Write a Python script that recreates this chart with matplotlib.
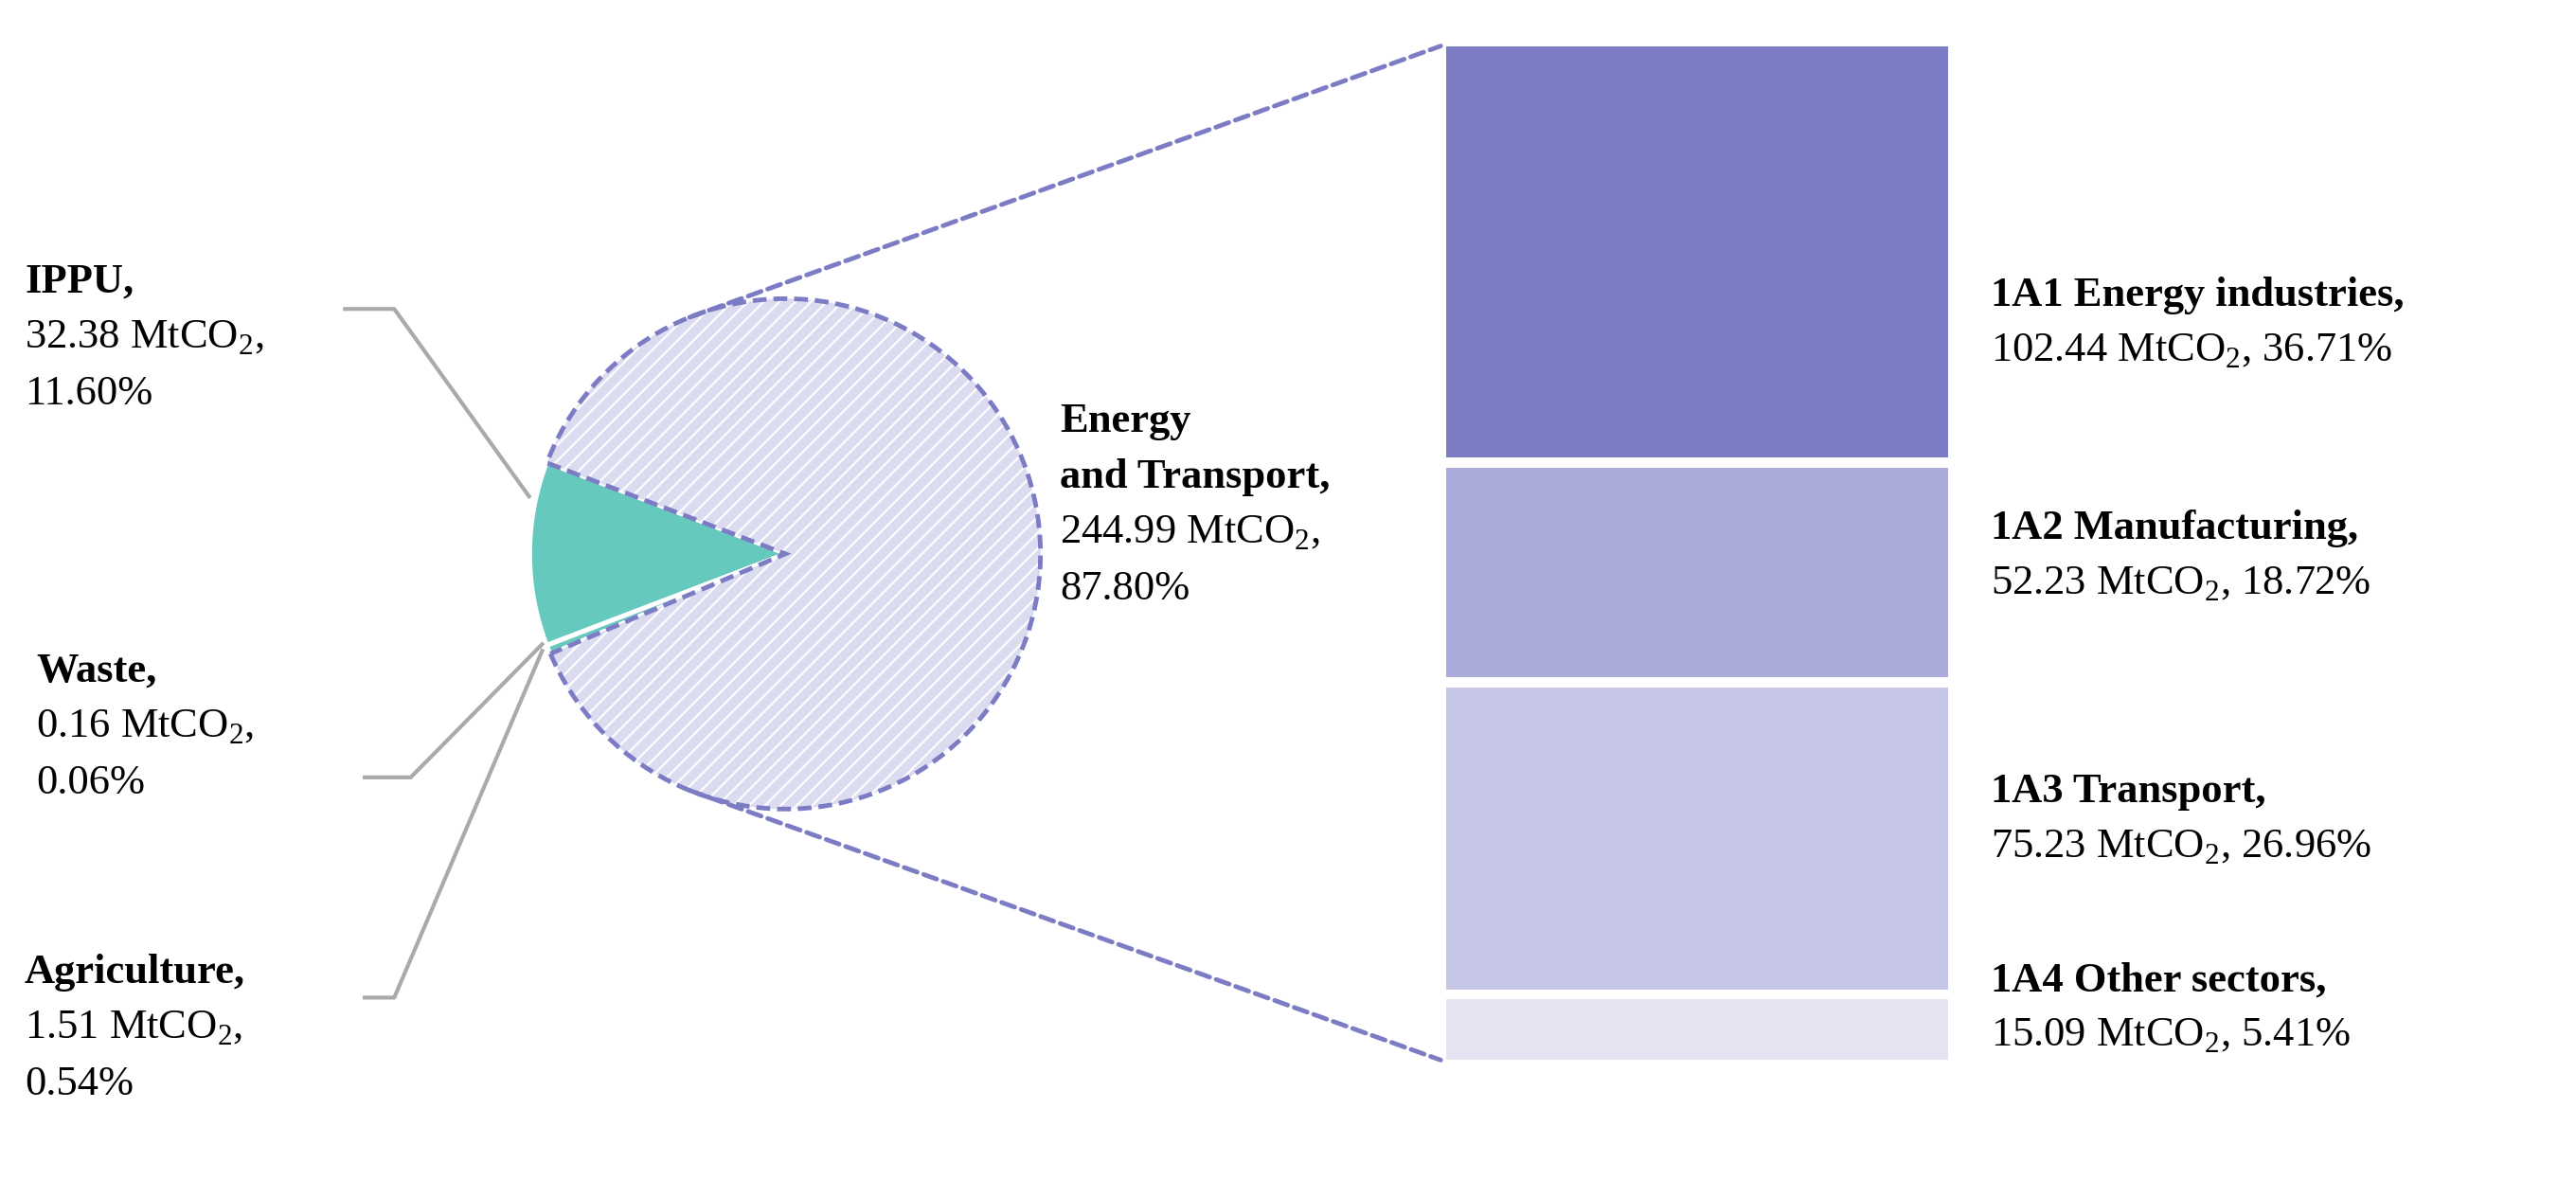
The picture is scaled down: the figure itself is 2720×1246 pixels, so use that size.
import matplotlib
matplotlib.use("Agg")
import matplotlib.pyplot as plt
from matplotlib.patches import ConnectionPatch
from matplotlib.lines import Line2D
import numpy as np

plt.rcParams["font.family"] = ["Liberation Serif", "DejaVu Serif"]
plt.rcParams["mathtext.fontset"] = "custom"
plt.rcParams["mathtext.rm"] = "Liberation Serif"
plt.rcParams["hatch.linewidth"] = 7

# pie data (MtCO2)
pie_names = ["IPPU", "Waste", "Agriculture", "Energy and Transport"]
pie_values = [32.38, 0.16, 1.51, 244.99]
pie_pct = ["11.60%", "0.06%", "0.54%", "87.80%"]

# bar data (bottom to top)
bar_names = ["1A4 Other sectors", "1A3 Transport", "1A2 Manufacturing", "1A1 Energy industries"]
bar_values = [15.09, 75.23, 52.23, 102.44]
bar_pct = ["5.41%", "26.96%", "18.72%", "36.71%"]
bar_colors = ["#e3e3f2", "#c6c6e6", "#aaaadb", "#7c7cc5"]

W, H = 1568, 718
fig = plt.figure(figsize=(27.2, 12.46), dpi=100, facecolor="white")

def fx(x): return x / W
def fy(y): return 1 - y / H

# pie
ax_pie = fig.add_axes([fx(478 - 160), fy(337 + 160), 320 / W, 320 / H])
start = 180 - pie_values[0] / sum(pie_values) * 360 / 2
wedges, _ = ax_pie.pie(pie_values, startangle=start, radius=1.0,
                       colors=["#66c9bd", "#66c9bd", "#66c9bd", "white"],
                       wedgeprops=dict(linewidth=0))
w = wedges[3]
w.set_facecolor("white")
w.set_edgecolor("#dcdcf0")
w.set_hatch("//")
w.set_linewidth(0)
# dashed outline on top
ax_pie.pie([pie_values[3], sum(pie_values[:3])], startangle=start + sum(pie_values[:3]) / sum(pie_values) * 360,
           colors=["none", "none"], radius=1.0,
           wedgeprops=dict(linewidth=3.5, edgecolor="#7c7cc5", linestyle=(0, (3, 1.5))))
ax_pie.patches[-1].set_visible(False)
for wd in wedges[:3]:
    wd.set_edgecolor("white")
    wd.set_linewidth(3)
ax_pie.set_xlim(-1.03, 1.03)
ax_pie.set_ylim(-1.03, 1.03)
ax_pie.set_aspect("equal")
ax_pie.axis("off")

# bars
gap = 2.5
ax_bar = fig.add_axes([fx(880), fy(645), 306 / W, (645 - 28) / H])
bottom = 0
for v, c in zip(bar_values, bar_colors):
    ax_bar.bar(0.5, v, width=1.0, bottom=bottom, color=c)
    bottom += v + gap
ax_bar.set_xlim(0, 1)
ax_bar.set_ylim(0, bottom - gap)
ax_bar.axis("off")

# connectors
for ang, yb in [(112, bottom - gap), (-112, 0)]:
    a = np.deg2rad(ang)
    con = ConnectionPatch(xyA=(np.cos(a), np.sin(a)), coordsA=ax_pie.transData,
                          xyB=(-0.01, yb), coordsB=ax_bar.transData,
                          color="#7c7cc5", linewidth=3.5, linestyle=(0, (3, 1.5)))
    fig.add_artist(con)

# leader lines (display pixel coords of the reference)
leaders = [[(210, 188), (240, 188), (322, 302)],
           [(222, 473), (250, 473), (330, 392)],
           [(222, 607), (240, 607), (330, 396)]]
for pts in leaders:
    xs = [fx(p[0]) for p in pts]
    ys = [fy(p[1]) for p in pts]
    fig.add_artist(Line2D(xs, ys, color="#aaaaaa", linewidth=3))

fs = 32
step = 34

def block(x, y, bold_lines, normal_lines):
    i = 0
    for t in bold_lines:
        fig.text(fx(x), fy(y + i * step), t, fontsize=fs, fontweight="bold", va="top")
        i += 1
    for t in normal_lines:
        fig.text(fx(x), fy(y + i * step), t, fontsize=fs, va="top")
        i += 1

co2 = "MtCO$_2$"
block(15, 160, ["IPPU,"], [f"{pie_values[0]:.2f} {co2},", pie_pct[0]])
block(22, 397, ["Waste,"], [f"{pie_values[1]:.2f} {co2},", pie_pct[1]])
block(15, 580, ["Agriculture,"], [f"{pie_values[2]:.2f} {co2},", pie_pct[2]])
block(645, 245, ["Energy", "and Transport,"], [f"{pie_values[3]:.2f} {co2},", pie_pct[3]])

bar_label_y = [585, 470, 310, 168]
for name, v, p, y in zip(bar_names, bar_values, bar_pct, bar_label_y):
    block(1212, y, [name + ","], [f"{v:.2f} {co2}, {p}"])

fig.savefig("out.png", dpi=100, facecolor="white")
